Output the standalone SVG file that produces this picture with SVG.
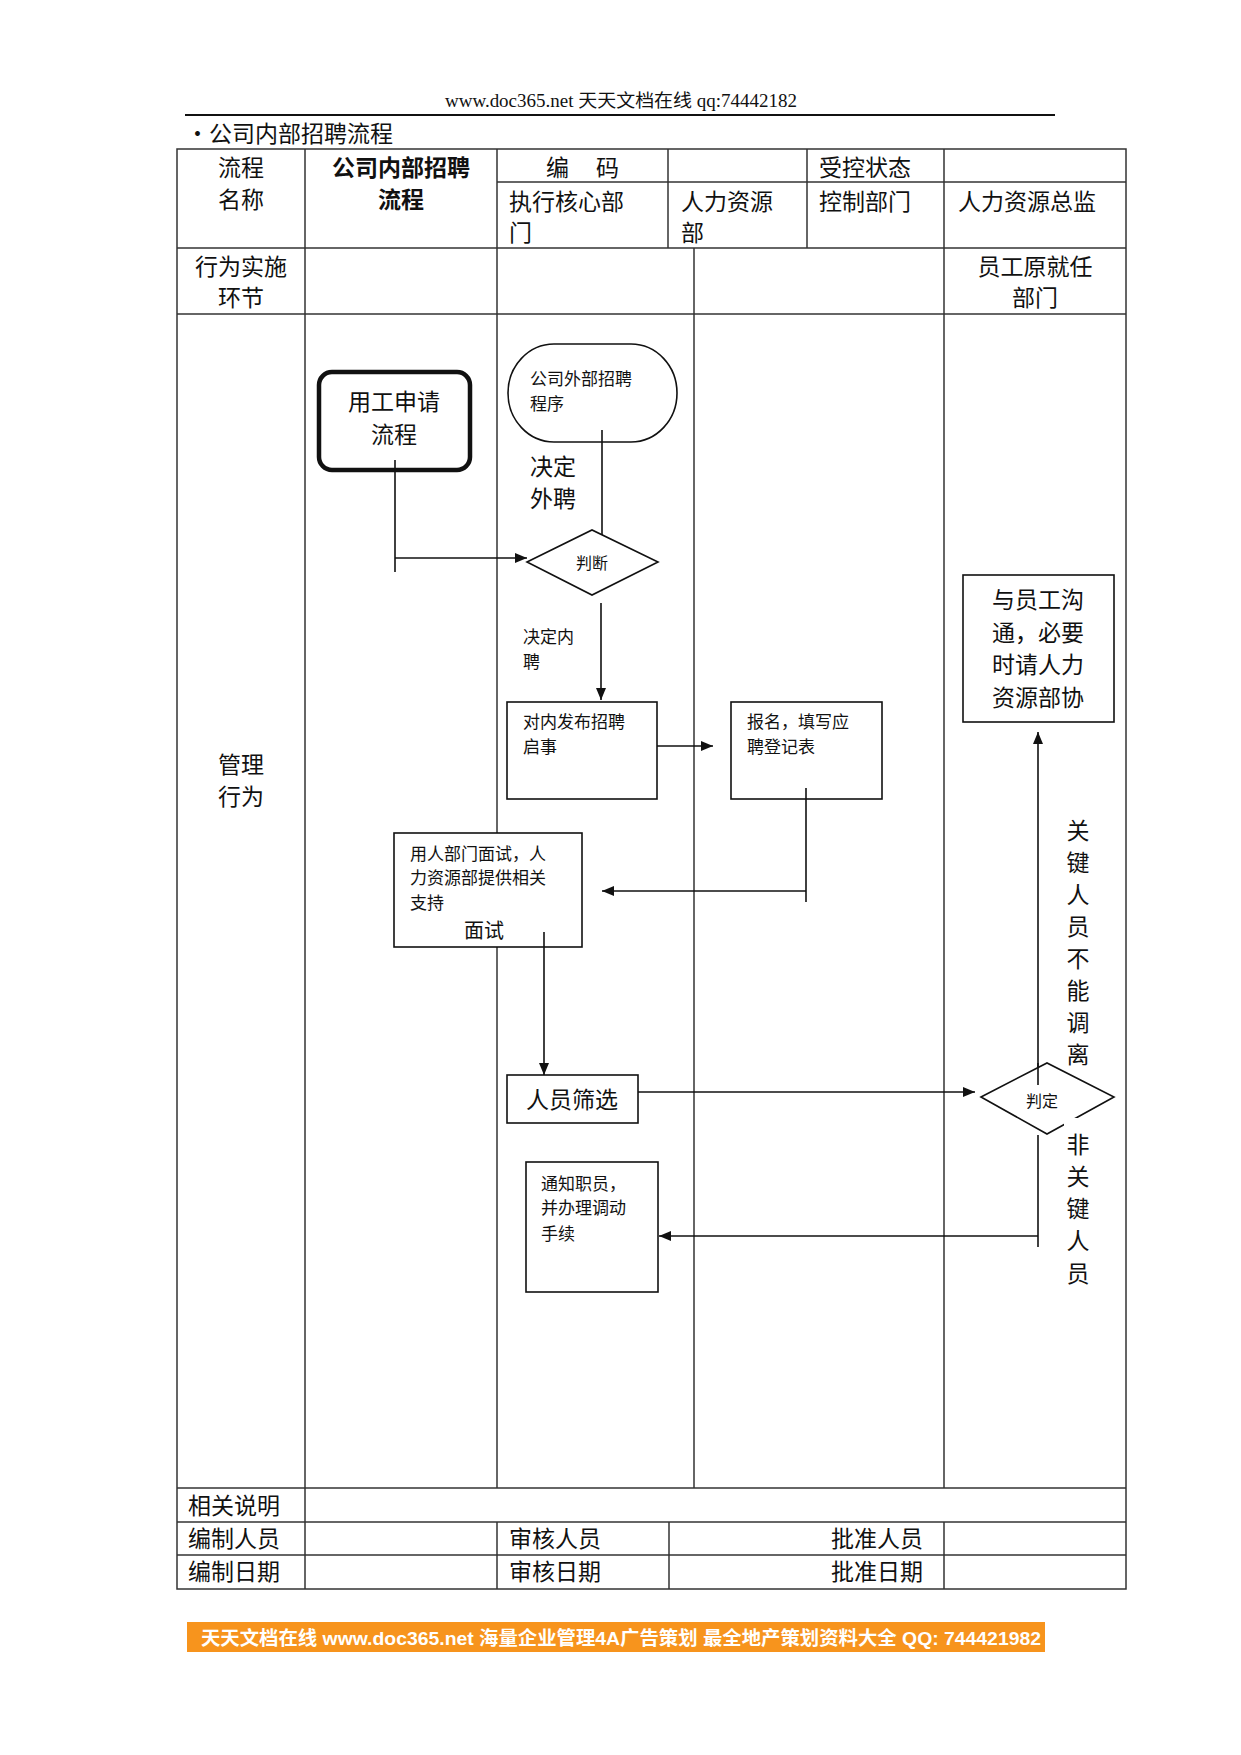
<svg xmlns="http://www.w3.org/2000/svg" width="1241" height="1755" viewBox="0 0 1241 1755">
<defs>
<style>
.t{font-family:"Noto Sans CJK SC","Liberation Serif",sans-serif;fill:#111}
.tb{font-size:23px}
.sm{font-size:16px}
.md{font-size:17px}
.lg{font-size:23px}
.grid{stroke:#333;stroke-width:1.5;fill:none}
.box{fill:#fff;stroke:#111;stroke-width:1.6}
.ln{stroke:#111;stroke-width:1.6;fill:none}
</style>
<marker id="ah" viewBox="0 0 12 10" refX="12" refY="5" markerWidth="12" markerHeight="10" markerUnits="userSpaceOnUse" orient="auto">
<path d="M0,0 L12,5 L0,10 Z" fill="#111"/>
</marker>
</defs>
<rect width="1241" height="1755" fill="#fff"/>

<g id="page-header">
<text x="621" y="107" text-anchor="middle" font-family="Liberation Serif,'Noto Sans CJK SC',serif" font-size="18" textLength="352" lengthAdjust="spacingAndGlyphs" fill="#111">www.doc365.net 天天文档在线  qq:74442182</text>
<line x1="185" y1="115" x2="1055" y2="115" stroke="#111" stroke-width="2"/>
<text class="t" x="186" y="142" font-size="23">·公司内部招聘流程</text>
</g>

<g id="table">
<rect class="grid" x="177" y="149" width="949" height="1440"/>
<line class="grid" x1="497" y1="182" x2="1126" y2="182"/>
<line class="grid" x1="177" y1="248" x2="1126" y2="248"/>
<line class="grid" x1="177" y1="314" x2="1126" y2="314"/>
<line class="grid" x1="177" y1="1488" x2="1126" y2="1488"/>
<line class="grid" x1="177" y1="1522" x2="1126" y2="1522"/>
<line class="grid" x1="177" y1="1555" x2="1126" y2="1555"/>
<line class="grid" x1="305" y1="149" x2="305" y2="1589"/>
<line class="grid" x1="497" y1="149" x2="497" y2="1488"/>
<line class="grid" x1="668" y1="149" x2="668" y2="248"/>
<line class="grid" x1="807" y1="149" x2="807" y2="248"/>
<line class="grid" x1="944" y1="149" x2="944" y2="1488"/>
<line class="grid" x1="694" y1="248" x2="694" y2="1488"/>
<line class="grid" x1="497" y1="1522" x2="497" y2="1589"/>
<line class="grid" x1="669" y1="1522" x2="669" y2="1589"/>
<line class="grid" x1="944" y1="1522" x2="944" y2="1589"/>

<g class="t tb">
<text x="241" y="176" text-anchor="middle">流程</text>
<text x="241" y="208" text-anchor="middle">名称</text>
<text x="401" y="176" text-anchor="middle" font-weight="bold">公司内部招聘</text>
<text x="401" y="208" text-anchor="middle" font-weight="bold">流程</text>
<text x="546" y="176">编</text>
<text x="596" y="176">码</text>
<text x="819" y="176">受控状态</text>
<text x="509" y="210">执行核心部</text>
<text x="509" y="241">门</text>
<text x="681" y="210">人力资源</text>
<text x="681" y="241">部</text>
<text x="819" y="210">控制部门</text>
<text x="958" y="210">人力资源总监</text>
<text x="241" y="275" text-anchor="middle">行为实施</text>
<text x="241" y="306" text-anchor="middle">环节</text>
<text x="1035" y="275" text-anchor="middle">员工原就任</text>
<text x="1035" y="306" text-anchor="middle">部门</text>
<text x="241" y="773" text-anchor="middle">管理</text>
<text x="241" y="805" text-anchor="middle">行为</text>
<text x="188" y="1514">相关说明</text>
<text x="188" y="1547">编制人员</text>
<text x="188" y="1580">编制日期</text>
<text x="509" y="1547">审核人员</text>
<text x="509" y="1580">审核日期</text>
<text x="831" y="1547">批准人员</text>
<text x="831" y="1580">批准日期</text>
</g>
</g>

<g id="connectors">
<line class="ln" x1="395" y1="460" x2="395" y2="572"/>
<line class="ln" x1="395" y1="558" x2="527" y2="558" marker-end="url(#ah)"/>
<line class="ln" x1="602" y1="442" x2="602" y2="543"/>
<line class="ln" x1="601" y1="603" x2="601" y2="700" marker-end="url(#ah)"/>
<line class="ln" x1="657" y1="746" x2="713" y2="746" marker-end="url(#ah)"/>
<line class="ln" x1="806" y1="788" x2="806" y2="902"/>
<line class="ln" x1="806" y1="891" x2="602" y2="891" marker-end="url(#ah)"/>
<line class="ln" x1="544" y1="932" x2="544" y2="1075" marker-end="url(#ah)"/>
<line class="ln" x1="638" y1="1092" x2="975" y2="1092" marker-end="url(#ah)"/>
<line class="ln" x1="1038" y1="1085" x2="1038" y2="732" marker-end="url(#ah)"/>
<line class="ln" x1="1038" y1="1135" x2="1038" y2="1247"/>
<line class="ln" x1="1038" y1="1236" x2="659" y2="1236" marker-end="url(#ah)"/>
</g>

<g id="n-apply">
<rect x="319" y="372" width="151" height="98" rx="13" fill="#fff" stroke="#111" stroke-width="4.5"/>
<line class="ln" x1="395" y1="460" x2="395" y2="470"/>
<text class="t" x="394" y="410" font-size="23" text-anchor="middle">用工申请</text>
<text class="t" x="394" y="443" font-size="23" text-anchor="middle">流程</text>
</g>

<g id="n-external">
<rect class="box" x="508" y="344" width="169" height="98" rx="46" ry="49"/>
<line class="ln" x1="602" y1="430" x2="602" y2="442"/>
<text class="t md" x="530" y="385">公司外部招聘</text>
<text class="t md" x="530" y="410">程序</text>
</g>

<g id="lbl-ext">
<text class="t lg" x="530" y="475">决定</text>
<text class="t lg" x="530" y="507">外聘</text>
</g>

<g id="n-judge">
<polygon class="box" points="527,562 592,530 658,562 592,595"/>
<text class="t sm" x="592" y="569" text-anchor="middle">判断</text>
</g>

<g id="lbl-int">
<text class="t md" x="523" y="643">决定内</text>
<text class="t md" x="523" y="668">聘</text>
</g>

<g id="n-publish">
<rect class="box" x="507" y="702" width="150" height="97"/>
<text class="t md" x="523" y="728">对内发布招聘</text>
<text class="t md" x="523" y="753">启事</text>
</g>

<g id="n-register">
<rect class="box" x="731" y="702" width="151" height="97"/>
<line class="ln" x1="806" y1="788" x2="806" y2="799"/>
<text class="t md" x="747" y="728">报名，填写应</text>
<text class="t md" x="747" y="753">聘登记表</text>
</g>

<g id="n-interview">
<rect class="box" x="394" y="833" width="188" height="114"/>
<line class="ln" x1="544" y1="932" x2="544" y2="947"/>
<text class="t md" x="410" y="860">用人部门面试，人</text>
<text class="t md" x="410" y="884">力资源部提供相关</text>
<text class="t md" x="410" y="909">支持</text>
<text class="t" x="464" y="938" font-size="20">面试</text>
</g>

<g id="n-screen">
<rect class="box" x="507" y="1075" width="131" height="48"/>
<text class="t lg" x="572" y="1108" text-anchor="middle">人员筛选</text>
</g>

<g id="n-decide">
<polygon class="box" points="981,1097 1047,1063 1114,1097 1047,1134"/>
<line class="ln" x1="1038" y1="1063" x2="1038" y2="1085"/>
<text class="t sm" x="1042" y="1107" text-anchor="middle">判定</text>
</g>

<g id="n-communicate">
<rect class="box" x="963" y="575" width="151" height="147"/>
<text class="t lg" x="1038" y="608" text-anchor="middle">与员工沟</text>
<text class="t lg" x="1038" y="641" text-anchor="middle">通，必要</text>
<text class="t lg" x="1038" y="673" text-anchor="middle">时请人力</text>
<text class="t lg" x="1038" y="706" text-anchor="middle">资源部协</text>
</g>

<g id="n-notify">
<rect class="box" x="526" y="1162" width="132" height="130"/>
<text class="t md" x="541" y="1190">通知职员，</text>
<text class="t md" x="541" y="1214">并办理调动</text>
<text class="t md" x="541" y="1240">手续</text>
</g>

<g id="lbl-key" class="t lg" text-anchor="middle">
<text x="1078" y="839">关</text>
<text x="1078" y="871">键</text>
<text x="1078" y="903">人</text>
<text x="1078" y="935">员</text>
<text x="1078" y="967">不</text>
<text x="1078" y="999">能</text>
<text x="1078" y="1031">调</text>
<text x="1078" y="1063">离</text>
</g>

<g id="lbl-nonkey">
<rect x="1064" y="1118" width="30" height="170" fill="#fff"/>
<g class="t lg" text-anchor="middle">
<text x="1078" y="1153">非</text>
<text x="1078" y="1185">关</text>
<text x="1078" y="1217">键</text>
<text x="1078" y="1249">人</text>
<text x="1078" y="1282">员</text>
</g>
</g>

<g id="footer-banner">
<rect x="187" y="1622" width="858" height="30" fill="#F7941D"/>
<text x="201" y="1645" font-family="'Liberation Sans','Noto Sans CJK SC',sans-serif" font-size="19" font-weight="bold" fill="#fff" textLength="840" lengthAdjust="spacingAndGlyphs">天天文档在线  www.doc365.net 海量企业管理4A广告策划 最全地产策划资料大全  QQ: 744421982</text>
</g>
</svg>
